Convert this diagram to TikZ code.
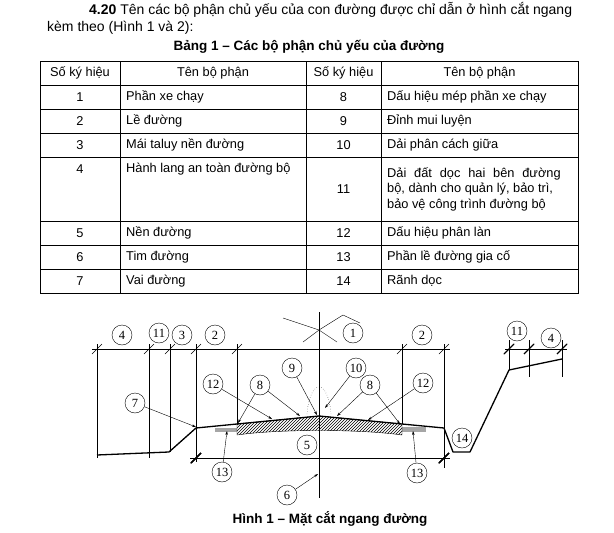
\documentclass[tikz,border=0pt]{standalone}
\usepackage{fontspec}
\setmainfont{Liberation Sans}
\newfontfamily\numfont{Liberation Serif}
\usetikzlibrary{patterns,arrows.meta}
\tikzset{
  circ/.style={circle,draw,thin,inner sep=0pt,minimum size=20pt,font=\numfont\fontsize{12.5}{12.5}\selectfont},
  lbl/.style={-{Stealth[length=4pt,width=2.5pt]},thin},
  dimln/.style={thin},
  road/.style={line width=1.3pt,line join=round},
  cell/.style={font=\fontsize{12.8}{15.5}\selectfont,inner sep=0pt}
}
\newcommand{\tk}[2]{\draw[thin] (#1-5,#2+5) -- (#1+5,#2-5);}
\begin{document}
\begin{tikzpicture}[x=1pt,y=-1pt]
  \useasboundingbox (0,0) rectangle (614,533);

  % heading
  \node[cell,anchor=west,font=\fontsize{14}{16}\selectfont] (head1) at (89,10) {\textbf{4.20} Tên các bộ phận chủ yếu của con đường được chỉ dẫn ở hình cắt ngang};
  \node[cell,anchor=west,font=\fontsize{14}{16}\selectfont] (head2) at (47,28) {kèm theo (Hình 1 và 2):};
  \node[cell,font=\bfseries\fontsize{13.5}{16}\selectfont] (tcap) at (309,47) {Bảng 1 – Các bộ phận chủ yếu của đường};

  % table
  \draw[thin] (40,61) rectangle (578,293);
  \foreach \y in {85,109,133,157,221,245,269} \draw[thin] (40,\y) -- (578,\y);
  \foreach \x in {120,306,381} \draw[thin] (\x,61) -- (\x,293);
  \node[cell] (h1) at (80,73) {Số ký hiệu};
  \node[cell] (h2) at (213,73) {Tên bộ phận};
  \node[cell] (h3) at (343.5,73) {Số ký hiệu};
  \node[cell] (h4) at (479.5,73) {Tên bộ phận};
  \foreach \n/\y/\a/\b/\c in {1/97/Phần xe chạy/8/Dấu hiệu mép phần xe chạy,
      2/121/Lề đường/9/Đỉnh mui luyện,
      3/145/Mái taluy nền đường/10/Dải phân cách giữa,
      5/233/Nền đường/12/Dấu hiệu phân làn,
      6/257/Tim đường/13/Phần lề đường gia cố,
      7/281/Vai đường/14/Rãnh dọc}{
    \node[cell] (n\n) at (80,\y) {\n};
    \node[cell,anchor=west] (t\n) at (126,\y) {\a};
    \node[cell] (n\b) at (343.5,\y) {\b};
    \node[cell,anchor=west] (t\b) at (387,\y) {\c};
  }
  \node[cell] (n4) at (80,169) {4};
  \node[cell,anchor=west] (t4) at (126,169) {Hành lang an toàn đường bộ};
  \node[cell] (n11) at (343.5,189) {11};
  \node[cell,anchor=west,align=left] (t11) at (387,189)
    {Dải \,\,đất \,\,dọc \,\,hai \,\,bên \,\,đường\\bộ, dành cho quản lý, bảo trì,\\bảo vệ công trình đường bộ};

  % dimension lines
  \draw[dimln] (92,349) -- (450,349);
  \draw[dimln] (190,458) -- (450,458);
  \draw[dimln] (505,349) -- (567,349);
  \foreach \x in {97,149,170,196,237,402,444} \tk{\x}{349}
  \foreach \x in {509,529,562} \tk{\x}{349}
  \tk{196}{458} \tk{444}{458}
  \draw[dimln] (97,344) -- (97,458);
  \draw[dimln] (149,344) -- (149,458);
  \draw[dimln] (170,344) -- (170,452);
  \draw[dimln] (196,344) -- (196,462);
  \draw[dimln] (237,344) -- (237,424);
  \draw[dimln] (402,344) -- (402,424);
  \draw[dimln] (444,344) -- (444,468);
  \draw[dimln] (509,340) -- (509,370);
  \draw[dimln] (529,340) -- (529,377);
  \draw[dimln] (562,340) -- (562,377);
  \draw[dimln] (319,312) -- (319,498);
  \draw[dimln] (283,318) -- (319,330) -- (337,342);
  \draw[dimln] (303,342) -- (319,330) -- (343,315) -- (360,323);

  % pavement and shoulders
  \fill[gray!70] (215,428) rectangle (237,432);
  \fill[gray!70] (402,427) rectangle (426,432);
  \draw[thin,pattern=north east lines] (237,424) -- (319,416) -- (402,424)
    -- (402,435) .. controls (360,429) and (278,429) .. (237,435) -- cycle;
  \draw[thin,dotted] (307,414) .. controls (310,378) and (328,378) .. (331,414);

  % ground line
  \draw[road] (97,455) -- (169,452) -- (196,428) -- (237,424) -- (319,416)
    -- (402,424) -- (444,428) -- (453,452) -- (470,452) -- (509,370) -- (562,359);

  % circled labels
  \node[circ] (c4) at (122,335) {4};
  \node[circ] (c11) at (159,333) {11};
  \node[circ] (c3) at (182,335) {3};
  \node[circ] (c2) at (215,335) {2};
  \node[circ] (c1) at (353,333) {1};
  \node[circ] (c2r) at (422,335) {2};
  \node[circ] (c11r) at (517,331) {11};
  \node[circ] (c4r) at (551,338) {4};
  \node[circ] (c9) at (292,368) {9};
  \node[circ] (c10) at (356,368) {10};
  \node[circ] (c8) at (260,385) {8};
  \node[circ] (c8r) at (370,385) {8};
  \node[circ] (c12) at (213,384) {12};
  \node[circ] (c12r) at (423,383) {12};
  \node[circ] (c7) at (135,403) {7};
  \node[circ] (c5) at (307,445) {5};
  \node[circ] (c14) at (462,438) {14};
  \node[circ] (c13) at (222,472) {13};
  \node[circ] (c13r) at (417,473) {13};
  \node[circ] (c6) at (287,495) {6};

  % arrow targets
  \coordinate (p7) at (196,427);
  \coordinate (p12) at (272,419);
  \coordinate (p8a) at (238,423);
  \coordinate (p8b) at (300,416);
  \coordinate (p9) at (317,415);
  \coordinate (p10) at (325,408);
  \coordinate (p8c) at (337,416);
  \coordinate (p8d) at (400,424);
  \coordinate (p12r) at (368,420);
  \coordinate (p13) at (227,431);
  \coordinate (p13r) at (413,431);
  \coordinate (p6) at (318,474);

  \draw[lbl] (c7) -- (p7);
  \draw[lbl] (c12) -- (p12);
  \draw[lbl] (c8) -- (p8a);
  \draw[lbl] (c8) -- (p8b);
  \draw[lbl] (c9) -- (p9);
  \draw[lbl] (c10) -- (p10);
  \draw[lbl] (c8r) -- (p8c);
  \draw[lbl] (c8r) -- (p8d);
  \draw[lbl] (c12r) -- (p12r);
  \draw[lbl] (c13) -- (p13);
  \draw[lbl] (c13r) -- (p13r);
  \draw[lbl] (c6) -- (p6);

  \node[cell,font=\bfseries\fontsize{13.5}{16}\selectfont] (fcap) at (330,519) {Hình 1 – Mặt cắt ngang đường};
\end{tikzpicture}
\end{document}
